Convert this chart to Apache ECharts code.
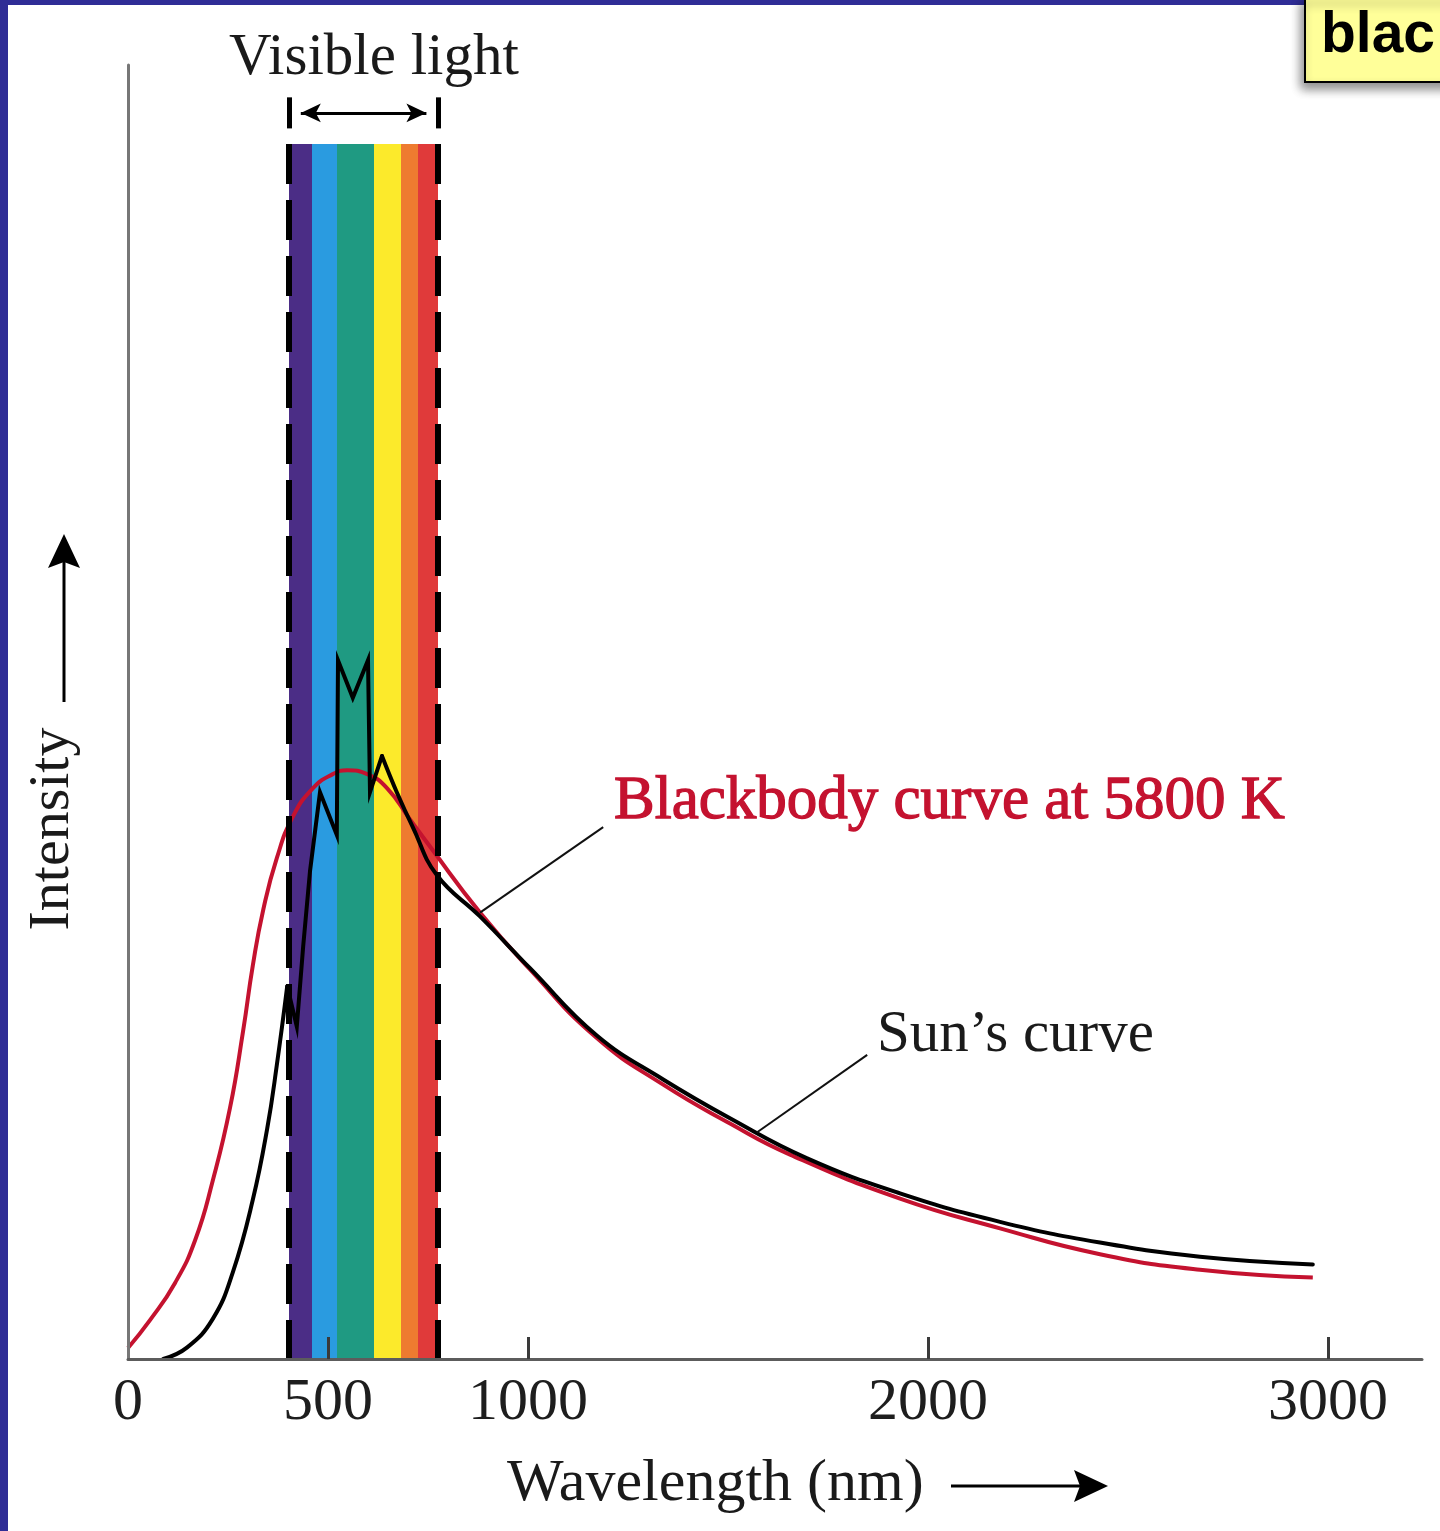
<!DOCTYPE html>
<html>
<head>
<meta charset="utf-8">
<script src="https://cdn.jsdelivr.net/npm/echarts@6/dist/echarts.min.js"></script>
<style>
  html, body { margin: 0; padding: 0; background: #ffffff; }
  #chart { width: 1440px; height: 1531px; }
</style>
</head>
<body>
<div id="chart"></div>
<script>
// Blackbody spectrum at 5800 K (wavelength in nm, relative intensity)
const bbWavelength = [0, 55, 118, 168, 212, 255, 288, 312, 338, 372, 412, 462, 512, 548, 598, 648, 705, 755, 880, 1005, 1172, 1338, 1505, 1655, 1930, 2180, 2430, 2680, 2962];
const bbIntensity  = [0.85, 3.0, 5.9, 9.2, 13.8, 19.4, 25.4, 30.4, 34.7, 38.7, 41.9, 44.1, 45.2, 45.5, 45.2, 44.1, 41.7, 39.6, 34.5, 30.1, 24.8, 21.2, 18.2, 15.8, 12.4, 10.1, 8.1, 6.9, 6.3];

// Observed solar spectrum (same units)
const sunWavelength = [88, 148, 212, 262, 312, 348, 372, 398, 422, 438, 455, 480, 522, 525, 562, 600, 605, 635, 672, 712, 772, 880, 1005, 1172, 1338, 1505, 1698, 1930, 2180, 2430, 2680, 2962];
const sunIntensity  = [0, 0.9, 3.1, 6.7, 12.3, 17.8, 22.7, 28.8, 25.7, 31.9, 37.7, 43.8, 40.5, 54.0, 51.1, 54.0, 43.8, 46.6, 43.8, 41.1, 37.4, 34.2, 30.2, 25.0, 21.6, 18.6, 15.5, 12.8, 10.6, 9.0, 7.9, 7.3];
// The absorption features between these indices are drawn with straight segments
const sunSharpFrom = 7;
const sunSharpTo = 17;

// Visible band: colour stripe edges (nm) and their colours
const bandEdges  = [402.5, 460, 522.5, 615, 682.5, 725, 775];
const bandColors = ['#4b2d86', '#2a9be0', '#1f9a82', '#fcea2b', '#ee7b30', '#e03a3a'];
const bandTop = 93.9;

// Axis ticks and labels (nm)
const tickValues  = [500, 1000, 2000, 3000];
const labelValues = [0, 500, 1000, 2000, 3000];

// Leader lines from the curve labels to the curves
const bbLeader  = [[880, 34.5], [1188, 41.1]];
const sunLeader = [[1572, 17.5], [1848, 23.5]];

const SERIF = '"Liberation Serif", "DejaVu Serif", serif';
const RED = '#c4122f';

const zip = (xs, ys) => xs.map((x, i) => [x, ys[i]]);
const sunPoints = zip(sunWavelength, sunIntensity);

const stripeAreas = bandColors.map((c, i) => [
  { xAxis: bandEdges[i], yAxis: 0, itemStyle: { color: c } },
  { xAxis: bandEdges[i + 1], yAxis: bandTop }
]);
const vLo = bandEdges[0];
const vHi = bandEdges[bandEdges.length - 1];

function sunPart(data, smooth) {
  return {
    name: "Sun's curve",
    type: 'line',
    data: data,
    smooth: smooth,
    showSymbol: false,
    z: 4,
    lineStyle: { color: '#000', width: 4, join: 'miter', miterLimit: 20, cap: 'round' }
  };
}

const chart = echarts.init(document.getElementById('chart'), null, { renderer: 'canvas' });

chart.setOption({
  animation: false,
  backgroundColor: '#ffffff',
  grid: { left: 128, right: 18, top: 65, bottom: 172, containLabel: false },
  xAxis: {
    type: 'value',
    min: 0,
    max: 3235,
    z: 5,
    axisLine: { show: true, lineStyle: { color: '#5c5c5c', width: 3 } },
    axisTick: { show: true, inside: true, length: 22, customValues: tickValues, lineStyle: { color: '#3a3a3a', width: 3 } },
    axisLabel: {
      show: true, customValues: labelValues, margin: 14,
      formatter: v => String(v),
      fontFamily: SERIF, fontSize: 60, color: '#1e1e1e'
    },
    splitLine: { show: false }
  },
  yAxis: {
    type: 'value',
    min: 0,
    max: 100,
    z: 5,
    axisLine: { show: true, onZero: false, lineStyle: { color: '#777777', width: 3 } },
    axisTick: { show: false },
    axisLabel: { show: false },
    splitLine: { show: false }
  },
  series: [
    {
      name: 'visible band',
      type: 'line',
      data: [],
      z: 1,
      silent: true,
      markArea: { silent: true, label: { show: false }, data: stripeAreas },
      markLine: {
        silent: true,
        symbol: 'none',
        label: { show: false },
        data: [
          [{ coord: [vLo, bandTop], lineStyle: { color: '#000', width: 6, type: [40, 16] } }, { coord: [vLo, 0] }],
          [{ coord: [vHi, bandTop], lineStyle: { color: '#000', width: 6, type: [40, 16] } }, { coord: [vHi, 0] }],
          [{ coord: [vLo, 95.1], lineStyle: { color: '#000', width: 5, type: 'solid' } }, { coord: [vLo, 97.5] }],
          [{ coord: [vHi, 95.1], lineStyle: { color: '#000', width: 5, type: 'solid' } }, { coord: [vHi, 97.5] }]
        ]
      }
    },
    {
      name: 'visible span',
      type: 'line',
      data: [],
      z: 2,
      silent: true,
      markLine: {
        silent: true,
        symbol: ['arrow', 'arrow'],
        symbolSize: [14, 20],
        label: { show: false },
        lineStyle: { color: '#000', width: 3, type: 'solid' },
        data: [[{ coord: [432, 96.3] }, { coord: [746, 96.3] }]]
      }
    },
    {
      name: 'leaders',
      type: 'line',
      data: [],
      z: 2,
      silent: true,
      markLine: {
        silent: true,
        symbol: 'none',
        label: { show: false },
        lineStyle: { color: '#111', width: 2, type: 'solid' },
        data: [
          [{ coord: bbLeader[0] }, { coord: bbLeader[1] }],
          [{ coord: sunLeader[0] }, { coord: sunLeader[1] }]
        ]
      }
    },
    {
      name: 'Blackbody curve at 5800 K',
      type: 'line',
      data: zip(bbWavelength, bbIntensity),
      smooth: 0.5,
      showSymbol: false,
      z: 3,
      lineStyle: { color: RED, width: 4 }
    },
    sunPart(sunPoints.slice(0, sunSharpFrom + 1), 0.45),
    sunPart(sunPoints.slice(sunSharpFrom, sunSharpTo + 1), false),
    sunPart(sunPoints.slice(sunSharpTo), 0.45)
  ],
  graphic: [
    // page frame
    { type: 'rect', z: 100, shape: { x: 0, y: 0, width: 8, height: 1531 }, style: { fill: '#2f2d96' } },
    { type: 'rect', z: 100, shape: { x: 0, y: 0, width: 1440, height: 5 }, style: { fill: '#2f2d96' } },
    // corner tag
    {
      type: 'rect', z: 101,
      shape: { x: 1305, y: -3, width: 150, height: 85 },
      style: { fill: '#ffff99', stroke: '#000', lineWidth: 2, shadowBlur: 10, shadowOffsetX: -3, shadowOffsetY: 6, shadowColor: 'rgba(0,0,0,0.45)' }
    },
    {
      type: 'text', z: 102, x: 1321, y: 36,
      style: { text: 'blac', fill: '#000', font: 'bold 57px "Liberation Sans", Arial, sans-serif', verticalAlign: 'middle', align: 'left' }
    },
    // texts
    {
      type: 'text', z: 10, x: 229, y: 58,
      style: { text: 'Visible light', fill: '#1a1a1a', font: '59px ' + SERIF, verticalAlign: 'middle', align: 'left' }
    },
    {
      type: 'text', z: 10, x: 614, y: 802,
      style: { text: 'Blackbody curve at 5800 K', fill: RED, stroke: RED, lineWidth: 1.3, font: '61px ' + SERIF, verticalAlign: 'middle', align: 'left' }
    },
    {
      type: 'text', z: 10, x: 877, y: 1035,
      style: { text: 'Sun\u2019s curve', fill: '#1a1a1a', font: '59px ' + SERIF, verticalAlign: 'middle', align: 'left' }
    },
    {
      type: 'text', z: 10, x: 507, y: 1484,
      style: { text: 'Wavelength (nm)', fill: '#1a1a1a', font: '60px ' + SERIF, verticalAlign: 'middle', align: 'left' }
    },
    {
      type: 'text', z: 10, x: 53, y: 829, rotation: Math.PI / 2,
      style: { text: 'Intensity', fill: '#1a1a1a', font: '58px ' + SERIF, verticalAlign: 'middle', align: 'center' }
    },
    // axis-title arrows
    { type: 'line', z: 10, shape: { x1: 951, y1: 1486, x2: 1080, y2: 1486 }, style: { stroke: '#000', lineWidth: 3 } },
    { type: 'polygon', z: 10, shape: { points: [[1108, 1486], [1074, 1470], [1080, 1486], [1074, 1502]] }, style: { fill: '#000' } },
    { type: 'line', z: 10, shape: { x1: 64, y1: 702, x2: 64, y2: 562 }, style: { stroke: '#000', lineWidth: 3 } },
    { type: 'polygon', z: 10, shape: { points: [[64, 534], [48, 568], [64, 562], [80, 568]] }, style: { fill: '#000' } }
  ]
});
</script>
</body>
</html>
